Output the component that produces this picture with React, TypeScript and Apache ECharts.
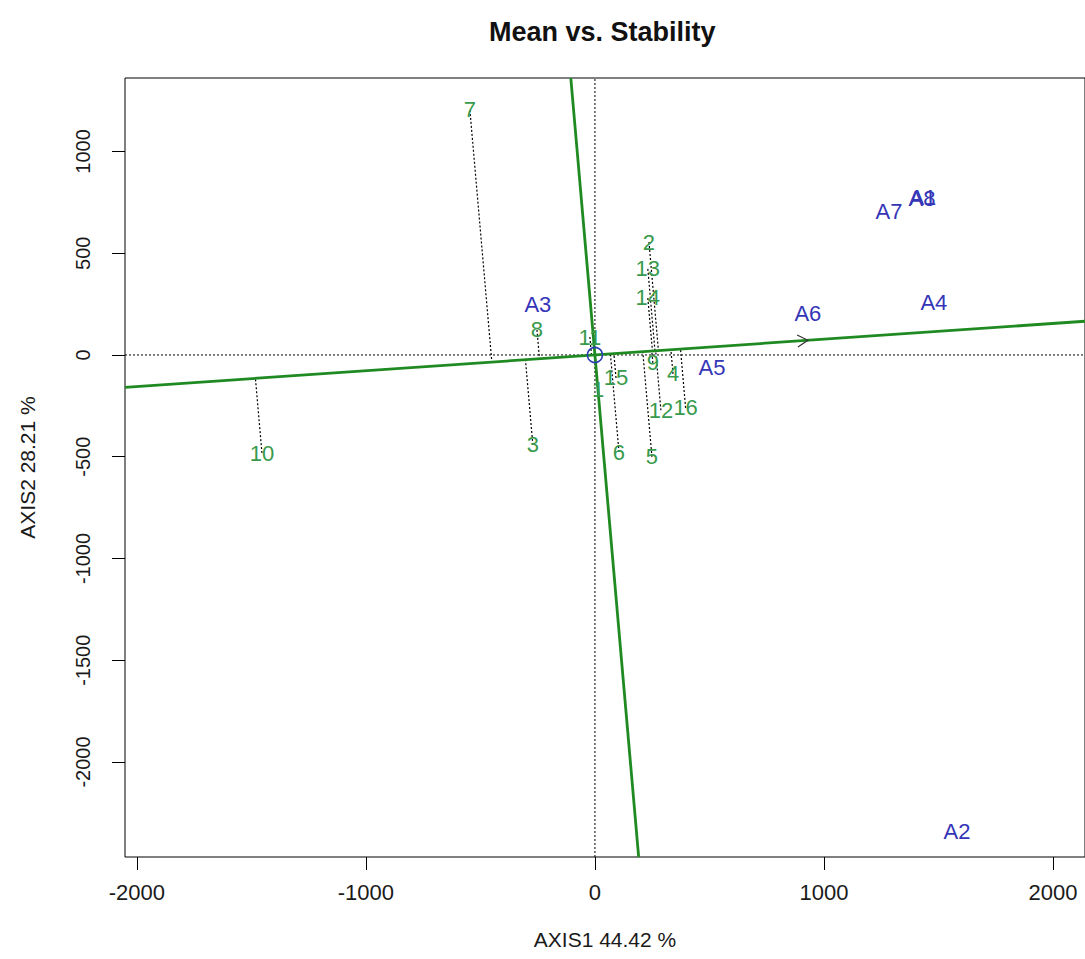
import React, { useEffect, useRef } from "react";
import * as echarts from "echarts";

// ---- data ----
const genotypeNames = ["1", "2", "3", "4", "5", "6", "7", "8", "9", "10", "11", "12", "13", "14", "15", "16"];
const genotypeX = [14, 236, -271, 341, 249, 105, -546, -253, 253, -1454, -22, 288, 231, 231, 92, 396];
const genotypeY = [-170, 555, -442, -93, -501, -477, 1204, 123, -39, -482, 88, -272, 423, 280, -113, -260];

const envNames = ["A1", "A2", "A3", "A4", "A5", "A6", "A7", "A8"];
const envX = [1432, 1581, -249, 1480, 511, 930, 1284, 1428];
const envY = [776, -2344, 246, 260, -64, 206, 703, 771];

// average environment coordinate (arrow tip)
const meanEnv = [930, 72];

const xTicks = [-2000, -1000, 0, 1000, 2000];
const yTicks = [-2000, -1500, -1000, -500, 0, 500, 1000];
const xRange = [-2052, 2140];
const yRange = [-2467, 1361];

const titleText = "Mean vs. Stability";
const xName = "AXIS1 44.42 %";
const yName = "AXIS2 28.21 %";

const FONT = '"Liberation Sans", Arial, Helvetica, sans-serif';
const GREEN_LINE = "#1f8a22";
const GREEN_TEXT = "#379a4c";
const BLUE_TEXT = "#3535b8";

export default function App() {
  const ref = useRef<HTMLDivElement>(null);

  useEffect(() => {
    document.body.style.margin = "0";
    if (!ref.current) return;
    const chart = echarts.init(ref.current, undefined, { renderer: "svg" });

    const slope = meanEnv[1] / meanEnv[0];
    const ataLine = [
      [xRange[0], xRange[0] * slope],
      [xRange[1], xRange[1] * slope],
    ];
    const perpLine = [
      [-slope * yRange[1], yRange[1]],
      [-slope * yRange[0], yRange[0]],
    ];

    const genoData = genotypeNames.map((n, i) => ({ name: n, value: [genotypeX[i], genotypeY[i]] }));
    const envData = envNames.map((n, i) => ({ name: n, value: [envX[i], envY[i]] }));

    const plain = (v: number) => String(v);

    const option: any = {
      animation: false,
      backgroundColor: "#ffffff",
      title: {
        text: titleText,
        left: 489,
        top: 18,
        padding: 0,
        textStyle: { fontFamily: FONT, fontSize: 27, fontWeight: "bold", color: "#111" },
      },
      grid: {
        left: 125,
        top: 78,
        width: 960,
        height: 779,
        show: true,
        borderColor: "#000",
        borderWidth: 1,
        backgroundColor: "transparent",
      },
      xAxis: {
        type: "value",
        min: xRange[0],
        max: xRange[1],
        name: xName,
        nameLocation: "middle",
        nameGap: 72,
        nameTextStyle: { fontFamily: FONT, fontSize: 21, color: "#1a1a1a" },
        axisLine: { show: false, onZero: false },
        axisTick: { show: true, customValues: xTicks, length: 13, lineStyle: { color: "#000", width: 1 } },
        axisLabel: { customValues: xTicks, formatter: plain, margin: 24, fontFamily: FONT, fontSize: 22, color: "#1a1a1a" },
        splitLine: { show: false },
      },
      yAxis: {
        type: "value",
        min: yRange[0],
        max: yRange[1],
        name: yName,
        nameLocation: "middle",
        nameGap: 87,
        nameRotate: 90,
        nameTextStyle: { fontFamily: FONT, fontSize: 21, color: "#1a1a1a" },
        axisLine: { show: false, onZero: false },
        axisTick: { show: true, customValues: yTicks, length: 13, lineStyle: { color: "#000", width: 1 } },
        axisLabel: { customValues: yTicks, formatter: plain, rotate: 90, margin: 32, fontFamily: FONT, fontSize: 20, color: "#1a1a1a" },
        splitLine: { show: false },
      },
      series: [
        {
          type: "line",
          data: [
            [xRange[0], 0],
            [xRange[1], 0],
          ],
          symbol: "none",
          silent: true,
          lineStyle: { color: "#000", width: 1, type: [2, 2] },
          z: 1,
        },
        {
          type: "line",
          data: [
            [0, yRange[0]],
            [0, yRange[1]],
          ],
          symbol: "none",
          silent: true,
          lineStyle: { color: "#000", width: 1, type: [2, 2] },
          z: 1,
        },
        {
          type: "custom",
          data: genotypeX.map((x, i) => [x, genotypeY[i]]),
          encode: { x: 0, y: 1 },
          silent: true,
          clip: true,
          z: 2,
          renderItem: (params: any, api: any) => {
            const gx = api.value(0);
            const gy = api.value(1);
            const dd = meanEnv[0] * meanEnv[0] + meanEnv[1] * meanEnv[1];
            const t = (gx * meanEnv[0] + gy * meanEnv[1]) / dd;
            const p1 = api.coord([gx, gy]);
            const p2 = api.coord([t * meanEnv[0], t * meanEnv[1]]);
            return {
              type: "line",
              shape: { x1: p1[0], y1: p1[1], x2: p2[0], y2: p2[1] },
              style: { stroke: "#000", lineWidth: 1.2, lineDash: [2, 2] },
            };
          },
        },
        {
          type: "line",
          data: ataLine,
          symbol: "none",
          silent: true,
          lineStyle: { color: GREEN_LINE, width: 2.8 },
          z: 3,
        },
        {
          type: "line",
          data: perpLine,
          symbol: "none",
          silent: true,
          lineStyle: { color: GREEN_LINE, width: 2.8 },
          z: 3,
        },
        {
          type: "custom",
          data: [meanEnv],
          encode: { x: 0, y: 1 },
          silent: true,
          z: 4,
          renderItem: (params: any, api: any) => {
            const tip = api.coord([api.value(0), api.value(1)]);
            const o = api.coord([0, 0]);
            const ang = Math.atan2(tip[1] - o[1], tip[0] - o[0]);
            const L = 12;
            const a = Math.PI / 6;
            const p1 = [tip[0] - L * Math.cos(ang - a), tip[1] - L * Math.sin(ang - a)];
            const p2 = [tip[0] - L * Math.cos(ang + a), tip[1] - L * Math.sin(ang + a)];
            return {
              type: "polyline",
              shape: { points: [p1, tip, p2] },
              style: { stroke: "#333", lineWidth: 1.2, fill: null },
            };
          },
        },
        {
          type: "scatter",
          data: [[0, 0]],
          symbol: "circle",
          symbolSize: 15,
          silent: true,
          itemStyle: { color: "transparent", borderColor: "#2d3fb5", borderWidth: 1.6, opacity: 1 },
          z: 5,
        },
        {
          type: "scatter",
          name: "genotypes",
          data: genoData,
          symbolSize: 1,
          silent: true,
          itemStyle: { color: "transparent", opacity: 1 },
          label: {
            show: true,
            position: "inside",
            formatter: "{b}",
            fontFamily: FONT,
            fontSize: 22,
            color: GREEN_TEXT,
            opacity: 1,
          },
          labelLayout: { hideOverlap: false },
          z: 6,
        },
        {
          type: "scatter",
          name: "environments",
          data: envData,
          symbolSize: 1,
          silent: true,
          itemStyle: { color: "transparent", opacity: 1 },
          label: {
            show: true,
            position: "inside",
            formatter: "{b}",
            fontFamily: FONT,
            fontSize: 22,
            color: BLUE_TEXT,
            opacity: 1,
          },
          labelLayout: { hideOverlap: false },
          z: 6,
        },
      ],
    };

    chart.setOption(option);
    return () => chart.dispose();
  }, []);

  return <div ref={ref} style={{ width: 1085, height: 959 }} />;
}
